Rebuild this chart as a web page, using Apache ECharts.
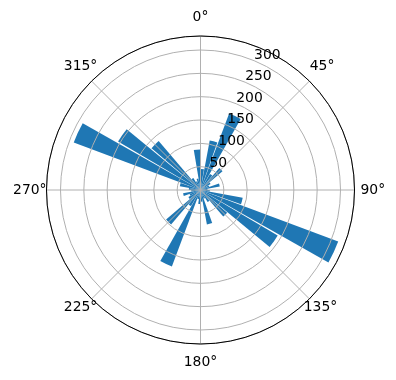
<!DOCTYPE html>
<html>
<head>
<meta charset="utf-8">
<script src="https://cdn.jsdelivr.net/npm/echarts@6/dist/echarts.min.js"></script>
<style>
html,body{margin:0;padding:0;background:#fff;}
#chart{width:396px;height:380px;}
</style>
</head>
<body>
<div id="chart"></div>
<script>
// bin centres (degrees, clockwise from north)
var directions = [5,15,25,35,45,55,65,75,85,95,105,115,125,135,145,155,165,175,
                  185,195,205,215,225,235,245,255,265,275,285,295,305,315,325,335,345,355];
// bar lengths
var counts = [45,108,175,40,62,25,20,42,15,20,92,315,192,75,30,20,75,25,
              30,20,175,40,97,30,25,38,20,25,45,290,205,138,30,20,25,87];
var angleTicks = [0,45,90,135,180,225,270,315];
var radiusTicks = [50,100,150,200,250,300];
var rMax = 330;

var chart = echarts.init(document.getElementById('chart'), null, {renderer:'canvas'});
var font = 'DejaVu Sans';
var fs = 13.9;
var center = [200.5, 190];
var radius = 154;

function rs(pad){ return {fontFamily: font, fontSize: fs, color: '#000', padding: pad}; }
var rich = {
  a0: rs([0,0,20,0]),
  a45: rs([0,0,13,6]),
  a90: rs([0,0,0,14]),
  a135: rs([7,0,0,0]),
  a180: rs([19,0,0,0]),
  a225: rs([7,0,0,0]),
  a270: rs([0,8,0,0]),
  a315: rs([0,0,13,0])
};

var option = {
  animation: false,
  polar: [
    {center: center, radius: radius},
    {center: center, radius: radius}
  ],
  angleAxis: [
    {
      polarIndex: 0, type: 'value', min: 0, max: 360, interval: 45,
      startAngle: 90, clockwise: true, z: 5,
      axisLine: {show: true, lineStyle: {color: '#000', width: 1}},
      axisTick: {show: false},
      axisLabel: {show: true, margin: -8, color: '#000', fontFamily: font, fontSize: fs,
        rich: rich,
        formatter: function(v){ return angleTicks.indexOf(v) >= 0 ? '{a' + v + '|' + v + '°}' : ''; }},
      splitLine: {show: true, lineStyle: {color: '#b0b0b0', width: 1}}
    },
    {
      polarIndex: 1, type: 'value', min: 0, max: 360, startAngle: 67.5, clockwise: true,
      show: false
    }
  ],
  radiusAxis: [
    {
      polarIndex: 0, type: 'value', min: 0, max: rMax, interval: 50, z: 5,
      axisLine: {show: false}, axisTick: {show: false}, axisLabel: {show: false},
      splitLine: {show: true, lineStyle: {color: '#b0b0b0', width: 1}}
    },
    {
      polarIndex: 1, type: 'value', min: 0, max: rMax, interval: 50, z: 6,
      axisLine: {show: false}, axisTick: {show: false}, splitLine: {show: false},
      axisLabel: {show: true, color: '#000', fontFamily: font, fontSize: fs, margin: 0,
        align: 'left', verticalAlign: 'bottom', lineHeight: 11,
        formatter: function(v){ return radiusTicks.indexOf(v) >= 0 ? String(v) : ''; }}
    }
  ],
  series: [{
    type: 'bar',
    coordinateSystem: 'polar',
    polarIndex: 0,
    barWidth: 9,
    itemStyle: {color: '#1f77b4'},
    data: directions.map(function(d, i){ return [counts[i], d]; }),
    z: 1
  }]
};
chart.setOption(option);
</script>
</body>
</html>
